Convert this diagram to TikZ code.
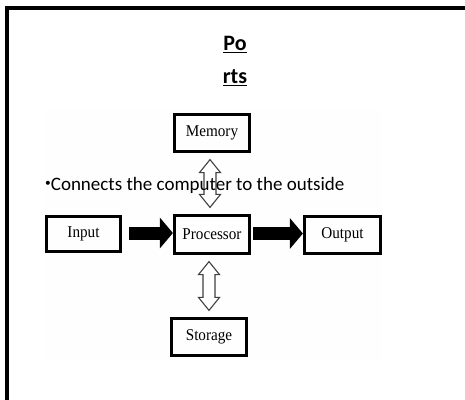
\documentclass[tikz,border=0pt]{standalone}
\usepackage{fontspec}
\setmainfont{Carlito}
\newfontfamily\boxfont[FakeStretch=0.92]{Liberation Serif}
\usetikzlibrary{arrows.meta,calc}
\newcommand\hollowlink[3]{% #1 upper node, #2 lower node, #3 xshift
  \draw[hollowarrow] let \p1=([xshift=#3,yshift=-6.5pt]#1.south), \p2=([xshift=#3,yshift=6.5pt]#2.north) in
    (\x1,\y1) -- ++(10.5pt,-13pt) -- ++(-4.5pt,0pt) -- (\x1+6pt,\y2+13pt) -- ++(4.5pt,0pt)
    -- (\x1,\y2) -- ++(-10.5pt,13pt) -- ++(4.5pt,0pt) -- (\x1-6pt,\y1-13pt) -- ++(-4.5pt,0pt) -- cycle;}
\begin{document}
\begin{tikzpicture}[x=1pt,y=-1pt,
  frame/.style={line width=3.2pt, draw=black, line join=miter},
  unit/.style={draw=black, line width=3.2pt, inner sep=0pt, font=\boxfont\fontsize{16.5}{18}\selectfont},
  title/.style={align=center, font=\fontsize{22}{33}\selectfont\bfseries},
  bullet/.style={anchor=base west, inner sep=0pt, font=\fontsize{19}{22}\selectfont},
  bigarrow/.style={draw=black, line width=13pt, -{Triangle[length=13pt,width=30pt]}},
  hollowarrow/.style={draw=black!75, line width=1.1pt, fill=white, line join=miter}
]
\path[use as bounding box] (0,0) rectangle (465,399);
\fill[gray!0.8] (45,110) rectangle (382,360);
\draw[frame] (466,8) -- (7,8) -- (7,400);

\node[title] (ttl) at (235,61) {\underline{Po}\\\underline{rts}};

\node[unit, minimum width=75pt, minimum height=37pt] (mem) at (212,133) {Memory};
\node[unit, minimum width=75pt, minimum height=38pt] (proc) at (212,234.5) {Processor};
\node[unit, minimum width=74pt, minimum height=35pt] (in) at (83.5,234) {Input};
\node[unit, minimum width=76pt, minimum height=37pt] (out) at (342.5,235) {Output};
\node[unit, minimum width=75pt, minimum height=37pt] (sto) at (209,337) {Storage};

\draw[bigarrow, shorten <=7pt] ([yshift=1pt]in.east) -- ([yshift=1pt]in.east -| proc.west);
\draw[bigarrow, shorten <=2pt] ([yshift=1pt]proc.east) -- ([yshift=1pt]proc.east -| out.west);

\hollowlink{mem}{proc}{-2pt}
\hollowlink{proc}{sto}{-3pt}

\node[bullet] (txt) at (45,190) {\raisebox{3.5pt}{\scalebox{0.6}{•}}Connects the computer to the outside};
\end{tikzpicture}
\end{document}
